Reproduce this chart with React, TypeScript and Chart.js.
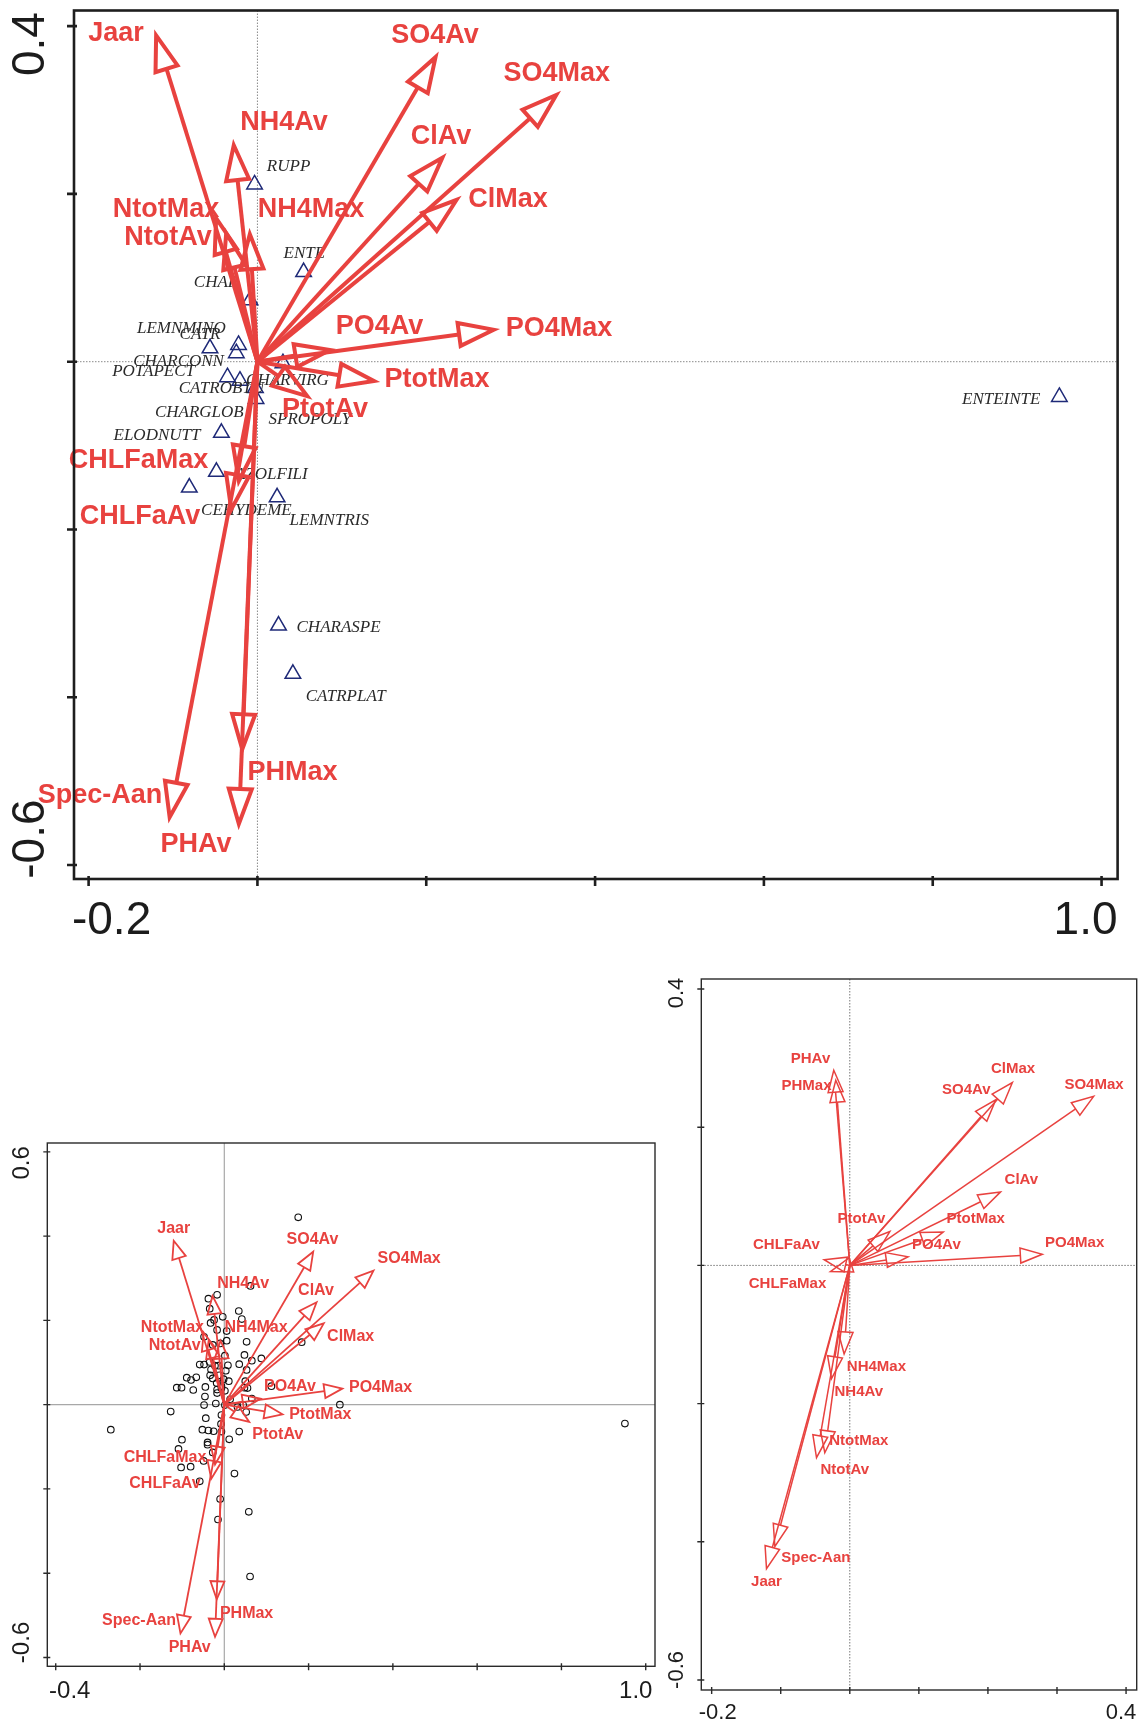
import React, { useEffect, useRef } from 'react';
import { Chart, registerables } from 'chart.js';
Chart.register(...registerables);

// ---------------- DATA ----------------
// environmental variables (same order in every array)
const envNames = ['Jaar', 'SO4Av', 'SO4Max', 'NH4Av', 'ClAv', 'ClMax', 'NH4Max', 'NtotMax', 'NtotAv', 'PO4Av', 'PO4Max', 'PtotMax', 'PtotAv', 'CHLFaMax', 'CHLFaAv', 'PHMax', 'PHAv', 'Spec-Aan'];

// biplot arrow tips: top chart and bottom-left chart (same ordination)
const envX = [-0.120, 0.211, 0.354, -0.028, 0.219, 0.236, -0.009, -0.049, -0.037, 0.086, 0.280, 0.138, 0.059, -0.022, -0.031, -0.018, -0.022, -0.104];
const envY = [0.389, 0.363, 0.318, 0.258, 0.243, 0.193, 0.152, 0.171, 0.153, 0.014, 0.038, -0.023, -0.041, -0.142, -0.176, -0.462, -0.551, -0.543];

// label anchors (data units) for the top chart
const topLabelX = [-0.1675, 0.2103, 0.3545, 0.0314, 0.2174, 0.2968, 0.0634, -0.1083, -0.106, 0.1446, 0.3572, 0.2127, 0.080, -0.1409, -0.1391, 0.0415, -0.0728, -0.1865];
const topLabelY = [0.3911, 0.3891, 0.3437, 0.2845, 0.2686, 0.1937, 0.1818, 0.1818, 0.1483, 0.0417, 0.0397, -0.0216, -0.0571, -0.1182, -0.1842, -0.4894, -0.575, -0.517];

// label anchors (data units) for the bottom-left chart
const blLabelX = [-0.120, 0.2093, 0.4387, 0.0446, 0.2176, 0.2999, 0.0752, -0.1231, -0.1179, 0.1559, 0.3708, 0.2278, 0.1269, -0.1407, -0.1407, 0.0529, -0.0821, -0.2024];
const blLabelY = [0.419, 0.3916, 0.3457, 0.2863, 0.2697, 0.161, 0.182, 0.182, 0.140, 0.0422, 0.0394, -0.0238, -0.0704, -0.1253, -0.1866, -0.4948, -0.5773, -0.5131];

// bottom-right chart arrows
const brEnvX = [-0.1206, 0.2113, 0.3531, -0.0265, 0.218, 0.2354, -0.0082, -0.0362, -0.0482, 0.0844, 0.2788, 0.1351, 0.0579, -0.028, -0.0371, -0.0203, -0.0232, -0.1085];
const brEnvY = [-0.439, 0.2396, 0.2446, -0.1639, 0.1061, 0.2646, -0.1282, -0.2711, -0.2782, 0.0125, 0.0161, 0.0482, 0.0489, -0.0089, 0.0082, 0.268, 0.2825, -0.4068];
const brLabelX = [-0.1206, 0.1688, 0.3536, 0.013, 0.2484, 0.2364, 0.0386, 0.013, -0.0072, 0.1254, 0.3256, 0.1823, 0.0169, -0.0902, -0.0917, -0.0627, -0.0569, -0.0492];
const brLabelY = [-0.4582, 0.2539, 0.2611, -0.1832, 0.1239, 0.2839, -0.1475, -0.2546, -0.2961, 0.0304, 0.0325, 0.0668, 0.0668, -0.0261, 0.0304, 0.2596, 0.2989, -0.4232];

// species (top chart)
const spNames = ['RUPP', 'ENTE', 'CHAR', 'LEMNMINO', 'CATR', 'CHARCONN', 'POTAPECT', 'CATROBTU', 'CHARVIRG', 'CHARGLOB', 'SPROPOLY', 'ELODNUTT', 'AZOLFILI', 'CEHYDEME', 'LEMNTRIS', 'CHARASPE', 'CATRPLAT', 'ENTEINTE'];
const spX = [-0.0034, 0.0547, -0.0088, -0.0562, -0.0224, -0.025, -0.0355, -0.0207, 0.0302, -0.0024, -0.0017, -0.0427, -0.0486, -0.0807, 0.0233, 0.025, 0.042, 0.950];
const spY = [0.2113, 0.1068, 0.0732, 0.016, 0.0199, 0.0101, -0.0184, -0.0227, -0.0018, -0.0314, -0.0444, -0.0847, -0.1313, -0.150, -0.1617, -0.3145, -0.372, -0.042];
const spLabelX = [0.0369, 0.0555, -0.0491, -0.0901, -0.068, -0.0934, -0.123, -0.0427, 0.0356, -0.0689, 0.0622, -0.119, 0.0165, -0.0131, 0.0851, 0.0961, 0.1045, 0.8811];
const spLabelY = [0.2331, 0.1285, 0.0938, 0.0397, 0.0326, 0.0002, -0.0116, -0.0314, -0.0223, -0.0602, -0.0689, -0.0886, -0.1341, -0.1774, -0.1893, -0.3168, -0.3986, -0.0452];

// sample sites (bottom-left chart)
const siteX = [0.1754, 0.0622, -0.0377, -0.0171, -0.0346, 0.0344, -0.0037, -0.0243, 0.0416, -0.0325, -0.0171, 0.0056, -0.048, -0.0099, -0.0274, 0.0056, 0.0529, 0.1836, 0.0014, 0.0478, 0.0879, 0.0653, -0.0583, -0.048, -0.0346, -0.0222, -0.014, 0.0086, 0.0354, -0.0315, 0.0529, 0.0035, -0.0891, -0.0789, -0.0665, -0.0336, -0.0274, -0.0119, -0.0016, -0.0181, -0.0068, 0.0107, -0.1128, -0.1015, -0.0737, -0.0449, -0.0171, -0.0068, 0.0014, 0.0498, 0.0478, 0.055, 0.1117, -0.0171, -0.0459, 0.0138, 0.0653, -0.048, -0.0202, 0.0014, 0.0313, 0.0447, -0.1272, -0.2693, -0.0068, 0.0519, -0.0439, -0.0078, -0.0521, -0.0377, -0.0253, -0.0068, 0.0117, 0.0354, -0.1005, -0.1087, -0.0397, -0.0397, -0.0274, -0.049, -0.1025, -0.0799, -0.0583, 0.0241, -0.0099, 0.0581, -0.015, 0.0611, 0.2742, 0.9506];
const siteY = [0.4445, 0.2817, 0.2515, 0.2607, 0.2277, 0.2223, 0.2085, 0.2012, 0.2031, 0.1939, 0.1774, 0.1747, 0.161, 0.1454, 0.1418, 0.1518, 0.1491, 0.1482, 0.1162, 0.118, 0.1098, 0.1043, 0.0951, 0.0951, 0.1015, 0.0924, 0.0924, 0.0933, 0.096, 0.0832, 0.0823, 0.0805, 0.064, 0.0585, 0.0649, 0.0695, 0.0622, 0.0695, 0.0604, 0.0512, 0.0439, 0.0558, 0.0402, 0.0402, 0.0348, 0.0421, 0.0357, 0.0393, 0.0329, 0.0558, 0.0402, 0.0393, 0.0439, 0.0274, 0.0192, 0.0128, 0.0146, -0.0009, 0.0027, -0.0009, -0.0055, -0.0009, -0.0165, -0.0595, -0.0247, -0.0174, -0.032, -0.0457, -0.0595, -0.0613, -0.0631, -0.064, -0.0823, -0.064, -0.0832, -0.1052, -0.0896, -0.0951, -0.1134, -0.1335, -0.1491, -0.1473, -0.182, -0.1637, -0.2241, -0.2543, -0.2726, -0.4079, 0.0, -0.0448];

// axis ticks
const topXTicks = [-0.2, 0, 0.2, 0.4, 0.6, 0.8, 1.0];
const topXTickLabels = ['-0.2', '', '', '', '', '', '1.0'];
const topYTicks = [0.4, 0.2, 0, -0.2, -0.4, -0.6];
const topYTickLabels = ['0.4', '', '', '', '', '-0.6'];
const blXTicks = [-0.4, -0.2, 0, 0.2, 0.4, 0.6, 0.8, 1.0];
const blXTickLabels = ['-0.4', '', '', '', '', '', '', '1.0'];
const blYTicks = [0.6, 0.4, 0.2, 0, -0.2, -0.4, -0.6];
const blYTickLabels = ['0.6', '', '', '', '', '', '-0.6'];
const brXTicks = [-0.2, -0.1, 0, 0.1, 0.2, 0.3, 0.4];
const brXTickLabels = ['-0.2', '', '', '', '', '', '0.4'];
const brYTicks = [0.4, 0.2, 0, -0.2, -0.4, -0.6];
const brYTickLabels = ['0.4', '', '', '', '', '-0.6'];

// ---------------- STYLE ----------------
const SANS = "'Liberation Sans', Arial, sans-serif";
const SERIF = "'Liberation Serif', 'Times New Roman', serif";
const RED = '#e8423f';
const NAVY = '#1f2a78';

type Cfg = {
  xMin: number; xMax: number; yMin: number; yMax: number;
  xTicks: number[]; xTickLabels: string[]; xShift: number[]; xGap: number;
  yTicks: number[]; yTickLabels: string[]; yShift: number[]; yGap: number;
  tickFont: string; tickOut: number; tickIn: number; boxWidth: number; boxColor: string;
  zeroColor: string; zeroDash: number[]; zeroWidth: number;
  ax: number[]; ay: number[]; lx: number[]; ly: number[];
  arrowWidth: number; headLen: number; headHalf: number; labelFont: string;
  species?: boolean;
};

function biplotPlugin(cfg: Cfg) {
  return {
    id: 'biplot',
    beforeDatasetsDraw(chart: any) {
      const { ctx, chartArea: a, scales } = chart;
      const x0 = scales.x.getPixelForValue(0);
      const y0 = scales.y.getPixelForValue(0);
      ctx.save();
      ctx.strokeStyle = cfg.zeroColor;
      ctx.lineWidth = cfg.zeroWidth;
      ctx.setLineDash(cfg.zeroDash);
      ctx.beginPath();
      ctx.moveTo(x0, a.top); ctx.lineTo(x0, a.bottom);
      ctx.moveTo(a.left, y0); ctx.lineTo(a.right, y0);
      ctx.stroke();
      ctx.restore();
    },
    afterDatasetsDraw(chart: any) {
      const { ctx, chartArea: a, scales } = chart;
      const sx = scales.x, sy = scales.y;
      ctx.save();
      // species labels
      if (cfg.species) {
        ctx.font = `italic 17px ${SERIF}`;
        ctx.fillStyle = '#2a2a2a';
        ctx.textAlign = 'center';
        ctx.textBaseline = 'middle';
        spNames.forEach((n, i) => {
          ctx.fillText(n, sx.getPixelForValue(spLabelX[i]), sy.getPixelForValue(spLabelY[i]));
        });
      }
      // arrows
      const ox = sx.getPixelForValue(0), oy = sy.getPixelForValue(0);
      ctx.strokeStyle = RED;
      ctx.lineWidth = cfg.arrowWidth;
      ctx.lineJoin = 'miter';
      ctx.lineCap = 'butt';
      envNames.forEach((_, i) => {
        const tx = sx.getPixelForValue(cfg.ax[i]);
        const ty = sy.getPixelForValue(cfg.ay[i]);
        const dx = tx - ox, dy = ty - oy;
        const len = Math.hypot(dx, dy) || 1;
        const ux = dx / len, uy = dy / len;
        const L = cfg.headLen, hw = cfg.headHalf;
        const bx = tx - ux * L, by = ty - uy * L;
        if (len > L) {
          ctx.beginPath(); ctx.moveTo(ox, oy); ctx.lineTo(bx, by); ctx.stroke();
        }
        ctx.beginPath();
        ctx.moveTo(tx, ty);
        ctx.lineTo(bx - uy * hw, by + ux * hw);
        ctx.lineTo(bx + uy * hw, by - ux * hw);
        ctx.closePath();
        ctx.stroke();
      });
      // arrow labels
      ctx.font = cfg.labelFont;
      ctx.fillStyle = RED;
      ctx.textAlign = 'center';
      ctx.textBaseline = 'middle';
      envNames.forEach((n, i) => {
        ctx.fillText(n, sx.getPixelForValue(cfg.lx[i]), sy.getPixelForValue(cfg.ly[i]));
      });
      // box
      ctx.strokeStyle = cfg.boxColor;
      ctx.lineWidth = cfg.boxWidth;
      ctx.strokeRect(a.left, a.top, a.right - a.left, a.bottom - a.top);
      // ticks
      ctx.beginPath();
      cfg.xTicks.forEach((v) => {
        const px = sx.getPixelForValue(v);
        ctx.moveTo(px, a.bottom - cfg.tickIn); ctx.lineTo(px, a.bottom + cfg.tickOut);
      });
      cfg.yTicks.forEach((v) => {
        const py = sy.getPixelForValue(v);
        ctx.moveTo(a.left + cfg.tickIn, py); ctx.lineTo(a.left - cfg.tickOut, py);
      });
      ctx.stroke();
      // tick labels
      ctx.font = cfg.tickFont;
      ctx.fillStyle = '#1c1c1c';
      ctx.textAlign = 'center';
      ctx.textBaseline = 'middle';
      cfg.xTicks.forEach((v, i) => {
        if (!cfg.xTickLabels[i]) return;
        ctx.fillText(cfg.xTickLabels[i], sx.getPixelForValue(v) + cfg.xShift[i], a.bottom + cfg.xGap);
      });
      cfg.yTicks.forEach((v, i) => {
        if (!cfg.yTickLabels[i]) return;
        ctx.save();
        ctx.translate(a.left - cfg.yGap, sy.getPixelForValue(v) + cfg.yShift[i]);
        ctx.rotate(-Math.PI / 2);
        ctx.fillText(cfg.yTickLabels[i], 0, 0);
        ctx.restore();
      });
      ctx.restore();
    },
  };
}

type PanelProps = {
  cfg: Cfg; left: number; top: number; width: number; height: number;
  padding: { left: number; top: number; right: number; bottom: number };
  datasets: any[];
};

function Panel({ cfg, left, top, width, height, padding, datasets }: PanelProps) {
  const ref = useRef<HTMLCanvasElement>(null);
  useEffect(() => {
    const chart = new Chart(ref.current as HTMLCanvasElement, {
      type: 'scatter',
      data: { datasets },
      options: {
        responsive: false,
        animation: false,
        devicePixelRatio: 1,
        events: [],
        layout: { padding },
        plugins: { legend: { display: false }, tooltip: { enabled: false } },
        scales: {
          x: { type: 'linear', min: cfg.xMin, max: cfg.xMax, display: false },
          y: { type: 'linear', min: cfg.yMin, max: cfg.yMax, display: false },
        },
      },
      plugins: [biplotPlugin(cfg)],
    } as any);
    return () => chart.destroy();
  }, []);
  return (
    <canvas
      ref={ref}
      width={width}
      height={height}
      style={{ position: 'absolute', left, top, width, height }}
    />
  );
}

const topCfg: Cfg = {
  xMin: -0.2173, xMax: 1.019, yMin: -0.6166, yMax: 0.4186,
  xTicks: topXTicks, xTickLabels: topXTickLabels, xShift: [23, 0, 0, 0, 0, 0, -16], xGap: 42,
  yTicks: topYTicks, yTickLabels: topYTickLabels, yShift: [18, 0, 0, 0, 0, -26], yGap: 43,
  tickFont: `46px ${SANS}`, tickOut: 7, tickIn: 3, boxWidth: 2.6, boxColor: '#1e1e1e',
  zeroColor: '#8a8a8a', zeroDash: [1.5, 1.5], zeroWidth: 1,
  ax: envX, ay: envY, lx: topLabelX, ly: topLabelY,
  arrowWidth: 4, headLen: 35, headHalf: 11.5, labelFont: `bold 27px ${SANS}`,
  species: true,
};

const blCfg: Cfg = {
  xMin: -0.42, xMax: 1.022, yMin: -0.621, yMax: 0.621,
  xTicks: blXTicks, xTickLabels: blXTickLabels, xShift: [14, 0, 0, 0, 0, 0, 0, -10], xGap: 25.4,
  yTicks: blYTicks, yTickLabels: blYTickLabels, yShift: [11, 0, 0, 0, 0, 0, -15], yGap: 24.6,
  tickFont: `24px ${SANS}`, tickOut: 4, tickIn: 3, boxWidth: 1.4, boxColor: '#2a2a2a',
  zeroColor: '#a8a8a8', zeroDash: [], zeroWidth: 1.2,
  ax: envX, ay: envY, lx: blLabelX, ly: blLabelY,
  arrowWidth: 1.8, headLen: 18, headHalf: 7, labelFont: `bold 16px ${SANS}`,
};

const brCfg: Cfg = {
  xMin: -0.215, xMax: 0.4154, yMin: -0.6145, yMax: 0.4145,
  xTicks: brXTicks, xTickLabels: brXTickLabels, xShift: [6, 0, 0, 0, 0, 0, -5], xGap: 22.5,
  yTicks: brYTicks, yTickLabels: brYTickLabels, yShift: [4, 0, 0, 0, 0, -10], yGap: 24,
  tickFont: `22px ${SANS}`, tickOut: 4, tickIn: 3, boxWidth: 1.4, boxColor: '#2a2a2a',
  zeroColor: '#777777', zeroDash: [1.5, 1.5], zeroWidth: 1,
  ax: brEnvX, ay: brEnvY, lx: brLabelX, ly: brLabelY,
  arrowWidth: 1.5, headLen: 22, headHalf: 7.5, labelFont: `bold 15px ${SANS}`,
};

const speciesDataset = {
  label: 'species',
  data: spX.map((x, i) => ({ x, y: spY[i] })),
  pointStyle: 'triangle',
  pointRadius: 9,
  borderColor: NAVY,
  backgroundColor: 'rgba(0,0,0,0)',
  borderWidth: 1.5,
  showLine: false,
};

const sitesDataset = {
  label: 'sites',
  data: siteX.map((x, i) => ({ x, y: siteY[i] })),
  pointStyle: 'circle',
  pointRadius: 3.3,
  borderColor: '#111111',
  backgroundColor: 'rgba(0,0,0,0)',
  borderWidth: 1.1,
  showLine: false,
};

const brTipsDataset = {
  label: 'tips',
  data: brEnvX.map((x, i) => ({ x, y: brEnvY[i] })),
  pointRadius: 0,
  showLine: false,
};

export default function App() {
  return (
    <div style={{ position: 'absolute', left: 0, top: 0, width: 1139, height: 1726, background: '#ffffff', overflow: 'hidden' }}>
      <Panel cfg={topCfg} left={0} top={0} width={1139} height={960}
        padding={{ left: 74, top: 5, right: 21.4, bottom: 81 }} datasets={[speciesDataset]} />
      <Panel cfg={blCfg} left={0} top={1100} width={690} height={626}
        padding={{ left: 47.3, top: 43, right: 35, bottom: 59.7 }} datasets={[sitesDataset]} />
      <Panel cfg={brCfg} left={640} top={940} width={499} height={786}
        padding={{ left: 61.3, top: 39, right: 2.3, bottom: 36 }} datasets={[brTipsDataset]} />
    </div>
  );
}
